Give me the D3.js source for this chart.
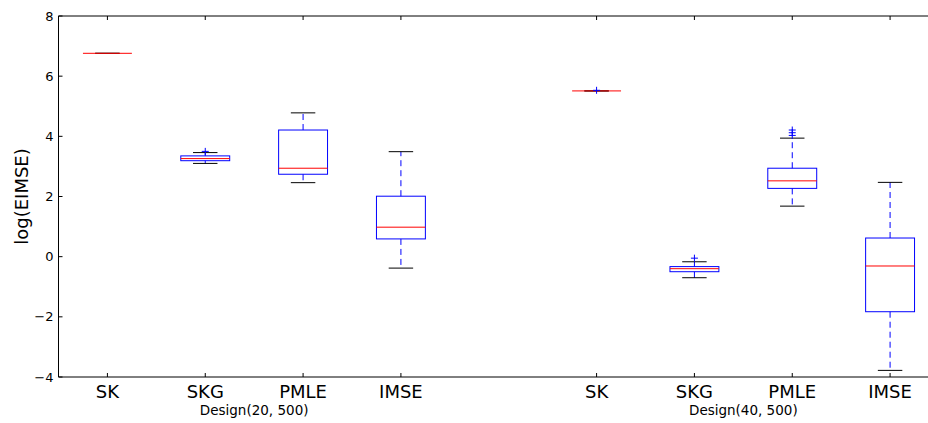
<!DOCTYPE html>
<html><head><meta charset="utf-8">
<script src="https://cdn.jsdelivr.net/npm/d3@7"></script>
<style>body{margin:0;background:#fff}svg{display:block}text{font-family:"DejaVu Sans",sans-serif}</style>
</head><body>
<svg id="c" width="928" height="423"></svg>
<script>
const categories = ["SK","SKG","PMLE","IMSE","SK","SKG","PMLE","IMSE"];
const positions  = [1,2,3,4,6,7,8,9];
const groups = ["Design(20, 500)","Design(40, 500)"];
const groupCenters = [2.5, 7.5];
const whiskerLo = [6.76, 3.10, 2.46, -0.38, 5.51, -0.70, 1.68, -3.78];
const q1        = [6.76, 3.19, 2.74,  0.59, 5.51, -0.50, 2.27, -1.83];
const median    = [6.76, 3.26, 2.94,  0.98, 5.51, -0.40, 2.52, -0.31];
const q3        = [6.76, 3.35, 4.21,  2.01, 5.51, -0.33, 2.94,  0.62];
const whiskerHi = [6.76, 3.46, 4.78,  3.49, 5.51, -0.17, 3.94,  2.47];
const outliers  = [[], [3.50], [], [], [5.53], [-0.05], [4.03, 4.12, 4.21], []];
const yTicks = [-4,-2,0,2,4,6,8];

const svg = d3.select("#c");
const x = d3.scaleLinear().domain([0.5, 9.5]).range([58.5, 939]);
const y = d3.scaleLinear().domain([-4, 8]).range([377, 16]);
const boxW = x(1.25) - x(1);   // half width 0.25
const capW = x(1.125) - x(1);

const g = svg.append("g");

// boxes
categories.forEach((c, i) => {
  const cx = x(positions[i]);
  // whiskers dashed
  g.append("line").attr("x1", cx).attr("x2", cx).attr("y1", y(q3[i])).attr("y2", y(whiskerHi[i]))
    .attr("stroke", "#0000ff").attr("stroke-dasharray", "6,4").attr("stroke-width", 1);
  g.append("line").attr("x1", cx).attr("x2", cx).attr("y1", y(q1[i])).attr("y2", y(whiskerLo[i]))
    .attr("stroke", "#0000ff").attr("stroke-dasharray", "6,4").attr("stroke-width", 1);
  // caps
  [whiskerHi[i], whiskerLo[i]].forEach(v => {
    g.append("line").attr("x1", cx - capW).attr("x2", cx + capW).attr("y1", y(v)).attr("y2", y(v))
      .attr("stroke", "#000").attr("stroke-width", 1);
  });
  // box
  g.append("rect").attr("x", cx - boxW).attr("width", 2 * boxW)
    .attr("y", y(q3[i])).attr("height", Math.max(0, y(q1[i]) - y(q3[i])))
    .attr("fill", "none").attr("stroke", "#0000ff").attr("stroke-width", 1);
  // median
  g.append("line").attr("x1", cx - boxW).attr("x2", cx + boxW).attr("y1", y(median[i])).attr("y2", y(median[i]))
    .attr("stroke", "#ff0000").attr("stroke-width", 1);
  // fliers
  outliers[i].forEach(v => {
    g.append("path").attr("d", `M${cx-3.5},${y(v)}H${cx+3.5}M${cx},${y(v)-3.5}V${y(v)+3.5}`)
      .attr("stroke", "#0000ff").attr("stroke-width", 1).attr("fill", "none");
  });
});

// frame
const L = x(0.5), R = x(9.5), T = y(8), B = y(-4);
svg.append("path").attr("d", `M${R},${T}H${L}V${B}H${R}V${T}`)
  .attr("fill", "none").attr("stroke", "#000").attr("stroke-width", 1);

// y ticks (inside)
yTicks.forEach(t => {
  svg.append("line").attr("x1", L).attr("x2", L + 4).attr("y1", y(t)).attr("y2", y(t)).attr("stroke", "#000");
  svg.append("text").attr("x", L - 5).attr("y", y(t)).attr("dy", "0.35em").attr("text-anchor", "end")
    .attr("font-size", 13).text(t < 0 ? "\u2212" + Math.abs(t) : t);
});

// x ticks (inside, top and bottom)
positions.forEach((p, i) => {
  const cx = x(p);
  svg.append("line").attr("x1", cx).attr("x2", cx).attr("y1", B).attr("y2", B - 4).attr("stroke", "#000");
  svg.append("line").attr("x1", cx).attr("x2", cx).attr("y1", T).attr("y2", T + 4).attr("stroke", "#000");
  svg.append("text").attr("x", cx).attr("y", 398).attr("text-anchor", "middle")
    .attr("font-size", 18).text(categories[i]);
});

groups.forEach((gname, i) => {
  svg.append("text").attr("x", x(groupCenters[i])).attr("y", 415).attr("text-anchor", "middle")
    .attr("font-size", 13.5).text(gname);
});

svg.append("text").attr("transform", `translate(28,${(T + B) / 2}) rotate(-90)`)
  .attr("text-anchor", "middle").attr("font-size", 18).text("log(EIMSE)");
</script>
</body></html>
